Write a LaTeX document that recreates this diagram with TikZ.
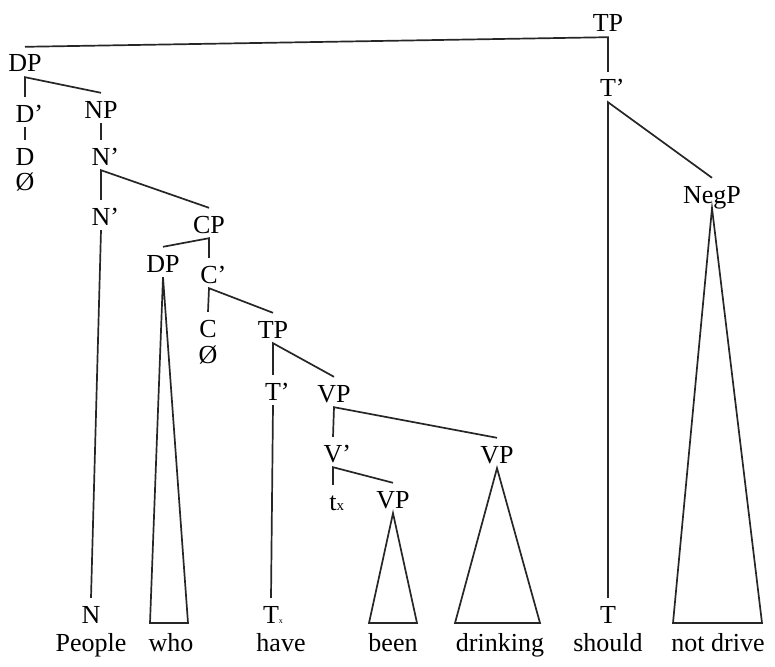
\documentclass[tikz,border=0pt]{standalone}
\usepackage{fontspec}
\setmainfont{Liberation Serif}
\usepackage{tikz}

\newcommand{\prm}[1]{#1\rlap{’}}
\newcommand{\subx}[2]{#1\rlap{\fontsize{#2}{#2}\selectfont x}}

\begin{document}
\begin{tikzpicture}[
        x=1pt, y=-1pt,
        lbl/.style={anchor=base, inner xsep=1pt, inner ysep=5pt, text height=20pt, text depth=0pt, font=\fontsize{26}{30}\selectfont},
        word/.style={anchor=base, inner sep=1pt, font=\fontsize{26}{30}\selectfont},
        branch/.style={draw=black!85, line width=1.7pt, line join=miter},
        roof/.style={draw=black!85, line width=1.7pt, line join=miter}
    ]
        \useasboundingbox (0,0) rectangle (775,666);

        % Matrix TP
        \node [lbl] (tp) at (608, 32) {TP};
        \node [lbl] (tbar) at (608, 97) {\prm{T}};
        \node [lbl] (negp) at (712, 203) {NegP};
        \node [lbl] (tfin) at (608, 623) {T};

        % Subject DP
        \node [lbl] (dp) at (25, 72) {DP};
        \node [lbl] (dbar) at (25, 122) {\prm{D}};
        \node [lbl] (d) at (25, 165) {D};
        \node [lbl] (dnull) at (25, 190) {Ø};
        \node [lbl] (np) at (101, 118) {NP};
        \node [lbl] (nbara) at (101, 165) {\prm{N}};
        \node [lbl] (nbarb) at (101, 225) {\prm{N}};
        \node [lbl] (n) at (91, 623) {N};

        % Relative clause CP
        \node [lbl] (cp) at (209, 233) {CP};
        \node [lbl] (dprel) at (163, 272) {DP};
        \node [lbl] (cbar) at (209, 283) {\prm{C}};
        \node [lbl] (c) at (208, 337) {C};
        \node [lbl] (cnull) at (208, 363) {Ø};
        \node [lbl] (tprel) at (273, 338) {TP};
        \node [lbl] (tbarrel) at (273, 400) {\prm{T}};
        \node [lbl] (tx) at (271, 623) {\subx{T}{8}};
        \node [lbl] (vpa) at (334, 402) {VP};
        \node [lbl] (vbar) at (333, 462) {\prm{V}};
        \node [lbl] (trace) at (333, 510) {\subx{t}{15}};
        \node [lbl] (vpb) at (393, 508) {VP};
        \node [lbl] (vpc) at (497, 463) {VP};

        % Terminal words
        \node [word] (people) at (91, 651) {People};
        \node [word] (who) at (171, 651) {who};
        \node [word] (have) at (281, 651) {have};
        \node [word] (been) at (393, 651) {been};
        \node [word] (drinking) at (500, 651) {drinking};
        \node [word] (should) at (608, 651) {should};
        \node [word] (notdrive) at (718, 651) {not drive};

        % Base corners of the roofs
        \coordinate (whol) at (150, 623);
        \coordinate (whor) at (188, 623);
        \coordinate (beenl) at (369, 623);
        \coordinate (beenr) at (417, 623);
        \coordinate (drinkl) at (455, 623);
        \coordinate (drinkr) at (540, 623);
        \coordinate (negl) at (673, 623);
        \coordinate (negr) at (762, 623);

        % Branches
        \draw [branch] (dp.north) -- (tp.south) -- (tbar.north);
        \draw [branch] (tfin.north) -- (tbar.south) -- (negp.north);
        \draw [branch] (dbar.north) -- (dp.south) -- (np.north);
        \draw [branch] (dbar.south) -- (d.north);
        \draw [branch] (np.south) -- (nbara.north);
        \draw [branch] (nbarb.north) -- (nbara.south) -- (cp.north);
        \draw [branch] (nbarb.south) -- (n.north);
        \draw [branch] (dprel.north) -- (cp.south) -- (cbar.north);
        \draw [branch] (c.north) -- (cbar.south) -- (tprel.north);
        \draw [branch] (tbarrel.north) -- (tprel.south) -- (vpa.north);
        \draw [branch] (tbarrel.south) -- (tx.north);
        \draw [branch] (vbar.north) -- (vpa.south) -- (vpc.north);
        \draw [branch] (trace.north) -- (vbar.south) -- (vpb.north);

        % Roofs
        \draw [roof] (dprel.south) -- (whol) -- (whor) -- cycle;
        \draw [roof] (vpb.south) -- (beenl) -- (beenr) -- cycle;
        \draw [roof] (vpc.south) -- (drinkl) -- (drinkr) -- cycle;
        \draw [roof] (negp.south) -- (negl) -- (negr) -- cycle;
    \end{tikzpicture}
\end{document}
